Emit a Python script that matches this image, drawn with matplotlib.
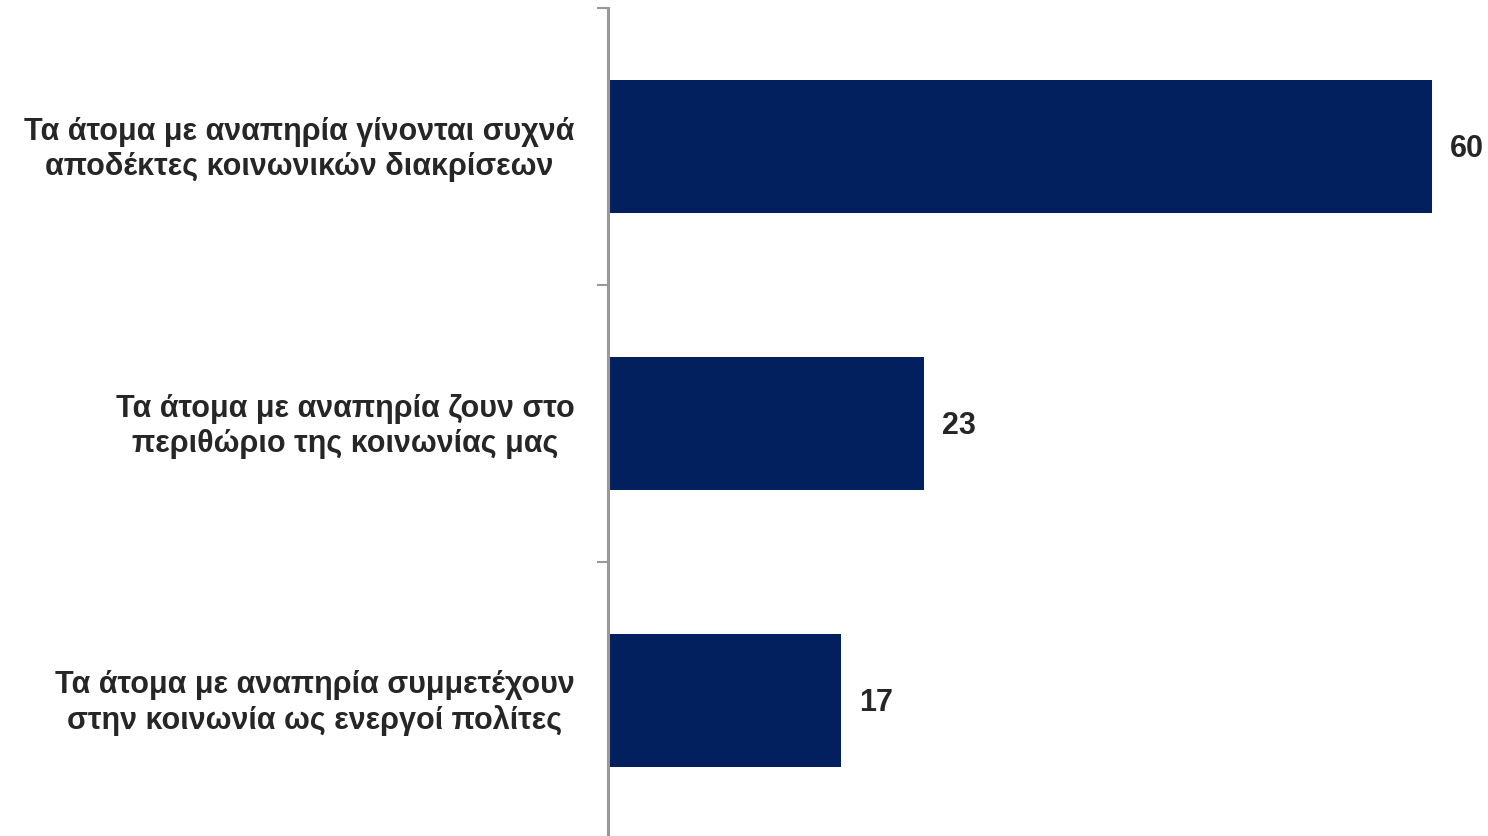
import matplotlib
matplotlib.use("Agg")
import matplotlib.pyplot as plt
from matplotlib import font_manager as fm

categories = [
    "Τα άτομα με αναπηρία γίνονται συχνά\nαποδέκτες κοινωνικών διακρίσεων",
    "Τα άτομα με αναπηρία ζουν στο\nπεριθώριο της κοινωνίας μας",
    "Τα άτομα με αναπηρία συμμετέχουν\nστην κοινωνία ως ενεργοί πολίτες",
]
values = [60, 23, 17]

installed = {f.name for f in fm.fontManager.ttflist}
fams = [f for f in ["Liberation Sans Narrow", "Liberation Sans", "DejaVu Sans"] if f in installed]
plt.rcParams['font.family'] = fams

fig = plt.figure(figsize=(14.88, 8.36), dpi=100)
ax = fig.add_axes([608/1488, -3/836, 880/1488, 831/836])

ypos = list(range(len(values)))
ax.barh(ypos, values, height=0.48, color="#02205e")
ax.set_ylim(2.5, -0.5)
ax.set_xlim(0, 880/13.733)

for y, v in zip(ypos, values):
    ax.text(v + 1.3, y + 0.01, f"{v}", va="center", ha="left", fontsize=22,
            fontweight="bold", color="#262626")

ax.set_yticks([-0.5, 0.5, 1.5, 2.5])
ax.set_yticklabels([])
ax.tick_params(axis="y", direction="out", length=8, width=1.5, color="#999999")
ax.set_xticks([])
for s in ["top", "right", "bottom"]:
    ax.spines[s].set_visible(False)
ax.spines["left"].set_color("#999999")
ax.spines["left"].set_linewidth(2.2)

for y, c in zip(ypos, categories):
    ax.text(-0.038, y + 0.01, c, transform=ax.get_yaxis_transform(), ha="right", va="center",
            fontsize=22, fontweight="bold", color="#262626", multialignment="center",
            linespacing=1.22)

fig.savefig("out.png", dpi=100)
